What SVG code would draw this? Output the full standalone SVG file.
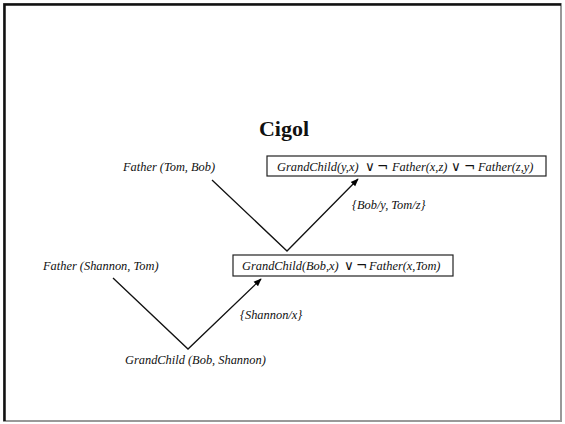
<svg xmlns="http://www.w3.org/2000/svg" width="565" height="424" viewBox="0 0 565 424">
<defs>
<marker id="ah" viewBox="0 0 10 10" refX="9" refY="5" markerWidth="8" markerHeight="8" orient="auto" markerUnits="userSpaceOnUse">
<path d="M0,1 L10,5 L0,9 z" fill="#000"/>
</marker>
</defs>
<style>
text{font-family:'Liberation Serif','DejaVu Serif',serif}
.t{font-style:italic;font-size:12.4px;fill:#111}
.s{font-family:'DejaVu Sans',sans-serif;font-style:normal;font-size:13.5px;fill:#111}
.box{fill:#fff;stroke:#222;stroke-width:1.2}
.ln{fill:none;stroke:#111;stroke-width:1.3}
</style>
<rect x="0" y="0" width="565" height="424" fill="#fff"/>
<rect x="4" y="4" width="557" height="417" fill="none" stroke="#999" stroke-width="2"/>
<path d="M4.5,421 L4.5,4.5 L561,4.5" fill="none" stroke="#111" stroke-width="2.5"/>
<text x="284" y="136" text-anchor="middle" font-weight="bold" font-size="22" fill="#111">Cigol</text>
<g id="connectors">
<polyline class="ln" points="212,180 287,251 358,179" marker-end="url(#ah)"/>
<polyline class="ln" points="113,278 188,349 261,279" marker-end="url(#ah)"/>
</g>
<g id="clause1">
<rect class="box" x="267" y="156" width="279" height="20"/>
<text class="t" x="277" y="170.5">GrandChild(y,x)</text>
<text class="s" x="365" y="170.5">∨</text>
<text class="s" x="377" y="170.5">¬</text>
<text class="t" x="392" y="170.5">Father(x,z)</text>
<text class="s" x="451" y="170.5">∨</text>
<text class="s" x="464" y="170.5">¬</text>
<text class="t" x="478" y="170.5">Father(z,y)</text>
</g>
<g id="fact1">
<text class="t" x="123" y="170.5">Father (Tom, Bob)</text>
</g>
<g id="clause2">
<rect class="box" x="233" y="255" width="220" height="21"/>
<text class="t" x="242" y="269.5">GrandChild(Bob,x)</text>
<text class="s" x="344" y="269.5">∨</text>
<text class="s" x="356" y="269.5">¬</text>
<text class="t" x="369" y="269.5">Father(x,Tom)</text>
</g>
<g id="fact2">
<text class="t" x="43" y="269.5">Father (Shannon, Tom)</text>
</g>
<g id="goal">
<text class="t" x="125" y="364">GrandChild (Bob, Shannon)</text>
</g>
<g id="subst1">
<text class="t" x="352" y="208.5">{Bob/y, Tom/z}</text>
</g>
<g id="subst2">
<text class="t" x="240" y="319">{Shannon/x}</text>
</g>
</svg>
